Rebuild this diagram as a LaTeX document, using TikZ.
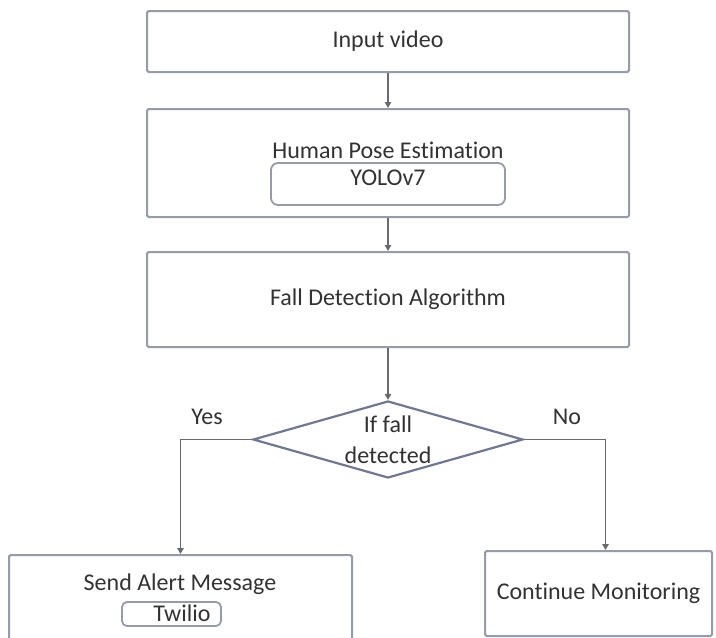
\documentclass[tikz,border=0pt]{standalone}
\usepackage{fontspec}
\setmainfont[Ligatures=NoCommon]{Carlito}
\usetikzlibrary{arrows.meta,shapes.geometric,calc}

\definecolor{boxline}{RGB}{150,155,170}
\definecolor{dialine}{RGB}{110,120,148}
\definecolor{wire}{RGB}{105,105,110}
\definecolor{txt}{RGB}{50,50,50}

\begin{document}
\begin{tikzpicture}[x=0.5pt,y=-0.5pt,
    font=\fontsize{12}{15.5}\selectfont, text=txt,
    box/.style={draw=boxline, line width=1pt, rounded corners=0.8pt, inner sep=0pt, minimum width=241pt},
    subbox/.style={draw=boxline, line width=0.9pt, rounded corners=3.5pt, inner sep=0pt},
    decision/.style={diamond, draw=dialine, line width=1.1pt, inner sep=0pt,
        minimum width=135pt, minimum height=38.5pt},
    arr/.style={draw=wire, line width=0.75pt, -{Triangle[length=3pt,width=3.2pt]}}]
            \useasboundingbox (0,0) rectangle (716,637);
            \clip (0,0) rectangle (716,637);
            \node[box, minimum height=30.5pt] (input) at (388,41.5) {Input video};
            \node[box, minimum height=54pt] (hpe) at (388,163) {};
            \node (hpetxt) at (388,150) {Human Pose Estimation};
            \node[subbox, minimum width=117pt, minimum height=21pt] (yolo) at (388,184) {};
            \node (yolotxt) at (388,178) {YOLOv7};
            \node[box, minimum height=47.5pt] (fda) at (388,299.5) {Fall Detection Algorithm};
            \node[decision] (dec) at (388,439.5) {};
            \node[align=center] (dectxt) at (388,439.5) {If fall\\detected};
            \node (yes) at (207,417) {Yes};
            \node (no) at (567,417) {No};
            \node[box, minimum width=171.5pt, minimum height=45pt] (alert) at (180.5,600) {};
            \node (alerttxt) at (180,584) {Send Alert Message};
            \node[subbox, rounded corners=2.5pt, minimum width=49.5pt, minimum height=12pt] (twilio) at (171.5,614) {};
            \node (twiliotxt) at (182,613) {Twilio};
            \node[box, minimum width=113.5pt, minimum height=42.5pt] (cont) at (598.5,593.5) {Continue Monitoring};
            \draw[arr] (input) -- (hpe);
            \draw[arr] (hpe) -- (fda);
            \draw[arr] (fda) -- (dec);
            \draw[arr] (dec.west) -| (alert);
            \draw[arr] (dec.east) -| ($(cont.north)+(7,0)$);
        \end{tikzpicture}
\end{document}
